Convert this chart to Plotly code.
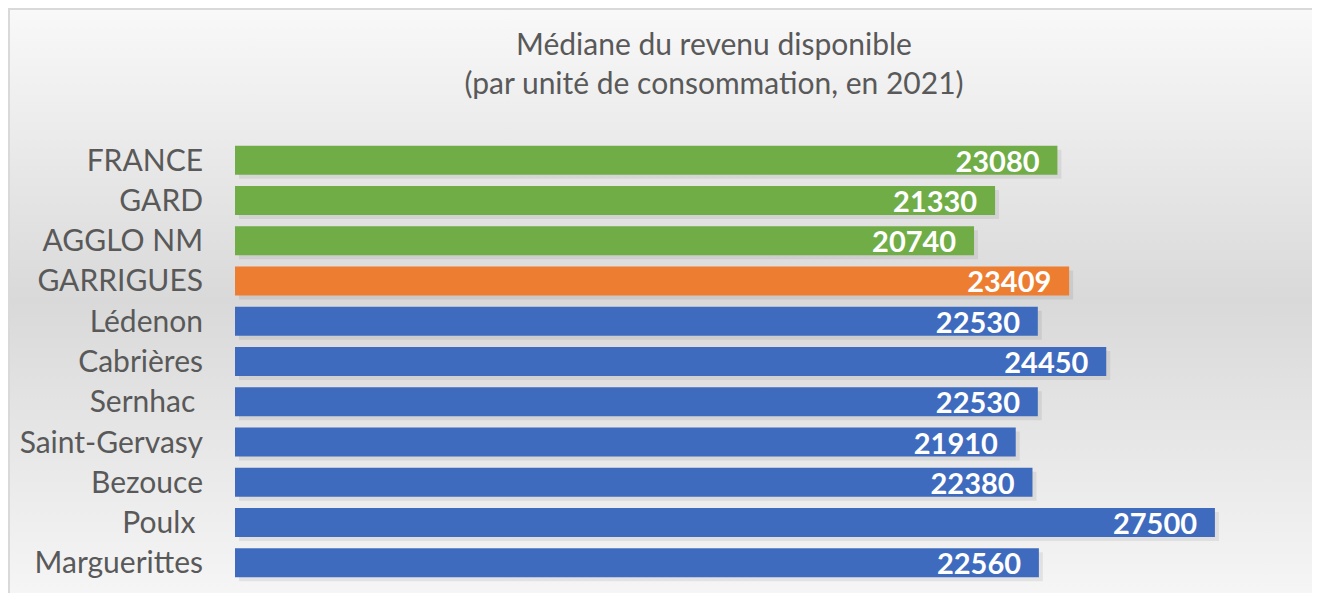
import base64
import plotly.graph_objects as go

categories = ["FRANCE", "GARD", "AGGLO NM", "GARRIGUES", "Lédenon", "Cabrières",
              "Sernhac ", "Saint-Gervasy", "Bezouce", "Poulx ", "Marguerittes"]
values = [23080, 21330, 20740, 23409, 22530, 24450, 22530, 21910, 22380, 27500, 22560]
groups = ["ref", "ref", "ref", "com", "town", "town", "town", "town", "town", "town", "town"]
group_colors = {"ref": "#70AD47", "com": "#ED7D31", "town": "#3F6BBE"}
title_lines = ["Médiane du revenu disponible", "(par unité de consommation, en 2021)"]

# page body has an 8px margin on every side: keep the figure inside 1320x605
W, H = 1304, 585
L, R, T, B = 227, 8, 132, 10
pw, ph = W - L - R, H - T - B
XMAX = 30000
n = len(categories)
BW = 0.72  # bar thickness in category units

svg = ('<svg xmlns="http://www.w3.org/2000/svg" width="100" height="100" viewBox="0 0 100 100" '
       'preserveAspectRatio="none">'
       '<defs><linearGradient id="g" x1="0" y1="0" x2="0" y2="1">'
       '<stop offset="0" stop-color="#ffffff"/><stop offset="0.5" stop-color="#d9d9d9"/>'
       '<stop offset="1" stop-color="#fbfbfb"/></linearGradient></defs>'
       '<rect x="-10" y="-10" width="120" height="120" fill="url(#g)"/></svg>')
uri = "data:image/svg+xml;base64," + base64.b64encode(svg.encode()).decode()

# soft shadow offset (pixels -> data units)
dx, dy = 4, 4
xs = XMAX / pw * dx
ys = n / ph * dy

fig = go.Figure()
fig.add_trace(go.Bar(
    y=categories, x=values, orientation="h",
    base=xs, width=BW, offset=-BW / 2 + ys,
    marker=dict(color="rgba(0,0,0,0.07)", line=dict(width=0)),
    hoverinfo="skip",
))
fig.add_trace(go.Bar(
    y=categories, x=values, orientation="h", width=BW,
    marker=dict(color=[group_colors[g] for g in groups], line=dict(width=0)),
    text=[f"<b>{v}</b>\u00a0\u00a0" for v in values],
    textposition="inside", insidetextanchor="end", constraintext="none",
    textfont=dict(family="Lato", size=29, color="white"),
    hoverinfo="skip",
))

# frame: left and top edges only (right/bottom are cut in the reference)
fx0, fy0 = 1, 1
px = lambda v: (v - L) / pw
py = lambda v: 1 - (v - T) / ph
frame_path = f"M {px(fx0)} {py(H)} L {px(fx0)} {py(fy0)} L {px(W)} {py(fy0)}"

fig.update_layout(
    width=W, height=H,
    margin=dict(l=L, r=R, t=T, b=B, pad=0),
    paper_bgcolor="white", plot_bgcolor="rgba(0,0,0,0)",
    barmode="overlay",
    showlegend=False,
    title=dict(text="<br>".join(title_lines), x=706 / W, xanchor="center",
               y=1 - 47 / H, yanchor="middle",
               font=dict(family="Lato", size=30, color="#595959")),
    xaxis=dict(range=[0, XMAX], showgrid=False, showticklabels=False, zeroline=False,
               showline=False, fixedrange=True),
    yaxis=dict(range=[n - 0.5, -0.5], showgrid=False, showline=False, ticks="",
               ticklabelstandoff=31,
               tickfont=dict(family="Lato", size=30, color="#595959")),
    images=[dict(source=uri, xref="paper", yref="paper",
                 x=px(fx0), y=py(fy0), sizex=(W - fx0) / pw, sizey=(H - fy0) / ph,
                 xanchor="left", yanchor="top", sizing="stretch", layer="below")],
    shapes=[dict(type="path", xref="paper", yref="paper", path=frame_path,
                 line=dict(color="#d9d9d9", width=2), layer="below")],
)

fig.write_html("out.html")
